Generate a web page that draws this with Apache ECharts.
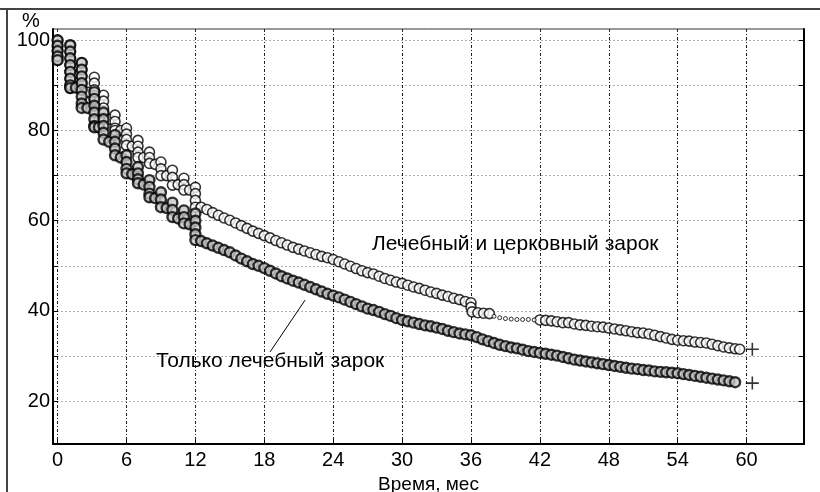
<!DOCTYPE html>
<html>
<head>
<meta charset="utf-8">
<script src="https://cdn.jsdelivr.net/npm/echarts@6/dist/echarts.min.js"></script>
<style>
html,body{margin:0;padding:0;background:#fff;}
#chart{width:820px;height:492px;}
</style>
</head>
<body>
<div id="chart"></div>
<script>
// ---- data ----
const xTicks = [0, 6, 12, 18, 24, 30, 36, 42, 48, 54, 60];
const yTicks = [20, 30, 40, 50, 60, 70, 80, 90, 100];
const yLabels = [20, 40, 60, 80, 100];

// "Лечебный и церковный зарок" (upper curve)
const curveBoth = [
  [0,100],[0,98.8],[0,97.6],[0,96.4],[0,95.6],
  [1.1,98.9],[1.1,97.5],[1.1,96],[1.1,94.5],[1.1,93],[1.1,91.5],[1.1,90],[1.1,89.4],[1.6,89.5],
  [2.1,95],[2.1,93.5],[2.1,92],[2.1,90.5],[2.1,89],[2.6,88.5],
  [3.2,91.8],[3.2,90.5],[3.2,89],[3.2,87.7],[3.2,86.7],[3.6,86.5],
  [4,87.8],[4,86.5],[4,85],[4,83.7],[4,82.7],[4.5,82.5],
  [5,83.4],[5,82],[5,80.5],[5,80],[5.5,80],
  [6,80.5],[6,79.2],[6,78],[6,76.7],[6.5,76.5],
  [7,77.8],[7,76.5],[7,75.2],[7,74],[7.5,74],
  [8,75.2],[8,74],[8,72.7],[8.5,72.5],
  [9,73],[9,71.5],[9,70],[9.5,70],
  [10,71.2],[10,69.6],[10,67.9],[10.5,68],
  [11,69.4],[11,68],[11,66.8],[11.5,66.8],
  [12,67.4],[12,66],[12,64.5],[12,63],
  [12.5,63],[13,62.5],[13.5,61.8],[14,61.2],[14.5,60.6],[15,60.1],[15.5,59.5],[16,58.9],
  [16.5,58.3],[17,57.7],[17.5,57.2],[18,56.7],[18.5,56.2],[19,55.6],[19.5,55.1],[20,54.6],
  [20.5,54.1],[21,53.7],[21.5,53.3],[22,52.9],[22.5,52.5],[23,52.1],[23.5,51.8],[24,51.4],
  [24.5,50.9],[25,50.4],[25.5,49.9],[26,49.4],[26.5,48.9],[27,48.5],[27.5,48.2],[28,47.7],
  [28.5,47.2],[29,46.8],[29.5,46.4],[30,46.1],[30.5,45.7],[31,45.3],[31.5,45],[32,44.6],
  [32.5,44.2],[33,43.9],[33.5,43.5],[34,43.2],[34.5,42.8],[35,42.5],[35.5,42.1],[36,41.8],
  [36,40.8],[36.1,39.8],[36.6,39.6],[37.1,39.5],[37.6,39.4],
  [42,38],[42.5,37.9],[43,37.8],[43.5,37.6],[44,37.4],[44.5,37.4],[45,37.1],[45.5,36.9],
  [46,36.8],[46.5,36.6],[47,36.5],[47.5,36.4],[48,36.2],[48.5,36],[49,35.8],[49.5,35.6],
  [50,35.4],[50.5,35.2],[51,35.1],[51.5,34.9],[52,34.6],[52.5,34.3],[53,34],[53.5,33.7],
  [54,33.5],[54.5,33.4],[55,33.3],[55.5,33.1],[56,33],[56.5,32.9],[57,32.6],[57.5,32.3],
  [58,32],[58.5,31.8],[59,31.6],[59.4,31.5]
];
// sparse small markers of the upper curve
const curveBothSparse = [
  [38,38.8],[38.5,38.5],[39,38.3],[39.5,38.2],[40,38.1],[40.5,38.1],[41,38.1],[41.5,38]
];

// "Только лечебный зарок" (lower curve)
const curveTreat = [
  [0,100],[0,98.8],[0,97.6],[0,96.4],[0,95.6],
  [1.1,98.9],[1.1,97.5],[1.1,96],[1.1,94.5],[1.1,93],[1.1,91.5],[1.1,90],[1.1,89.4],[1.6,89.5],
  [2.1,95],[2.1,93.5],[2.1,92],[2.1,90.5],[2.1,89],[2.1,87.5],[2.1,86],[2.1,85],[2.6,85],
  [3.2,88.5],[3.2,87],[3.2,85.5],[3.2,84],[3.2,82.5],[3.2,81],[3.2,80.7],[3.6,80.7],
  [4,84],[4,82.5],[4,81],[4,79.5],[4,78],[4.5,77.5],
  [5,79],[5,77.5],[5,76],[5,74.5],[5.5,74],
  [6,74.5],[6,73],[6,71.5],[6,70.5],[6.5,70.3],
  [7,71.9],[7,70.5],[7,69.2],[7,68.3],[7.5,68],
  [8,69],[8,67.5],[8,66],[8,65.2],[8.5,65],
  [9,66.3],[9,64.7],[9,63],[9.5,62.8],
  [10,64],[10,62.4],[10,60.8],[10.5,60.5],
  [11,62.3],[11,60.8],[11,59.4],[11.5,59.2],
  [12,61.6],[12,60],[12,58.5],[12,57],[12,55.7],
  [12.5,55.5],[13,55],[13.5,54.5],[14,54],[14.5,53.5],[15,53],[15.5,52.3],[16,51.6],
  [16.5,51],[17,50.4],[17.5,50],[18,49.5],[18.5,48.9],[19,48.3],[19.5,47.7],[20,47.2],
  [20.5,46.7],[21,46.3],[21.5,45.8],[22,45.3],[22.5,44.8],[23,44.3],[23.5,43.8],[24,43.4],
  [24.5,43],[25,42.5],[25.5,42],[26,41.5],[26.5,41],[27,40.5],[27.5,40.2],[28,39.8],
  [28.5,39.3],[29,38.9],[29.5,38.4],[30,38],[30.5,37.7],[31,37.4],[31.5,37.1],[32,36.8],
  [32.5,36.6],[33,36.3],[33.5,36],[34,35.6],[34.5,35.3],[35,35],[35.5,34.8],[36,34.6],
  [36.5,34.2],[37,33.7],[37.5,33.3],[38,32.9],[38.5,32.5],[39,32.2],[39.5,31.9],[40,31.7],
  [40.5,31.4],[41,31.1],[41.5,30.9],[42,30.7],[42.5,30.5],[43,30.3],[43.5,30.1],[44,29.8],
  [44.5,29.5],[45,29.2],[45.5,29],[46,28.8],[46.5,28.6],[47,28.4],[47.5,28.2],[48,28],
  [48.5,27.8],[49,27.6],[49.5,27.4],[50,27.2],[50.5,27.1],[51,26.9],[51.5,26.8],[52,26.6],
  [52.5,26.5],[53,26.4],[53.5,26.3],[54,26.2],[54.5,26],[55,25.8],[55.5,25.6],[56,25.4],
  [56.5,25.2],[57,25],[57.5,24.8],[58,24.6],[58.5,24.4],[59,24.2]
];
// censored end points ("+")
const endMarks = [[60.5,31.5],[60.5,24]];
// pointer line for the lower-curve label
const pointerLine = [[18.5,30.9],[21.55,42.4]];

const FONT = 'Liberation Sans, Arial, sans-serif';
const chart = echarts.init(document.getElementById('chart'), null, {renderer:'canvas'});

const circleStyle = (w, fill) => ({color:fill, borderColor:'#000000', borderWidth:w});

const option = {
  animation: false,
  backgroundColor: '#ffffff',
  grid: {left:53, top:29, right:16, bottom:48, outerBoundsMode:'none', containLabel:false,
         show:true, borderColor:'#333', borderWidth:1, backgroundColor:'transparent'},
  xAxis: {
    type:'value', min:-0.4, max:65,
    name:'Время, мес', nameLocation:'middle', nameGap:28,
    nameTextStyle:{color:'#000', fontSize:19, fontFamily:FONT},
    axisLine:{onZero:false, lineStyle:{color:'#000', width:2}},
    axisTick:{customValues:xTicks, inside:true, length:4, lineStyle:{color:'#000', width:1}},
    axisLabel:{customValues:xTicks, color:'#000', fontSize:20, fontFamily:FONT, margin:6},
    splitLine:{show:true, lineStyle:{color:'#222', width:1, type:[3,2,1,2]}}
  },
  yAxis: [{
    type:'value', min:10.5, max:102.5, position:'left',
    axisLine:{show:true, onZero:false, lineStyle:{color:'#000', width:2}},
    axisTick:{customValues:yTicks, inside:true, length:5, lineStyle:{color:'#000', width:1}},
    axisLabel:{customValues:yLabels, color:'#000', fontSize:20, fontFamily:FONT, margin:3},
    splitLine:{show:true, lineStyle:{color:'#b0b0b0', width:1, type:[2,2]}}
  },{
    type:'value', min:10.5, max:102.5, position:'right',
    axisLine:{show:true, onZero:false, lineStyle:{color:'#000', width:2}},
    axisTick:{customValues:yTicks, inside:true, length:5, lineStyle:{color:'#000', width:1}},
    axisLabel:{show:false},
    splitLine:{show:false}
  }],
  series: [
    {
      name:'Лечебный и церковный зарок', type:'scatter', data:curveBoth,
      symbol:'circle', symbolSize:10, itemStyle:circleStyle(1.6, '#ffffff'), z:3
    },
    {
      name:'Лечебный и церковный зарок (редкие)', type:'scatter', data:curveBothSparse,
      symbol:'circle', symbolSize:4, itemStyle:circleStyle(1, '#ffffff'), z:3
    },
    {
      name:'Только лечебный зарок', type:'scatter', data:curveTreat,
      symbol:'circle', symbolSize:10, itemStyle:circleStyle(2.4, '#c8c8c8'), z:4,
      markLine:{
        silent:true, symbol:['none','none'], label:{show:false},
        lineStyle:{color:'#000', width:1, type:'solid'},
        data:[[{coord:pointerLine[0]},{coord:pointerLine[1]}]]
      }
    },
    {
      name:'Цензурированные', type:'scatter', data:endMarks,
      symbol:'path://M0,4.4H10V5.6H0ZM4.4,0H5.6V10H4.4Z', symbolSize:13,
      itemStyle:{color:'#000'}, z:5
    }
  ],
  graphic: [
    {type:'line', shape:{x1:0, y1:9, x2:820, y2:9}, style:{stroke:'#444', lineWidth:2}},
    {type:'line', shape:{x1:7, y1:9, x2:7, y2:492}, style:{stroke:'#444', lineWidth:2}},
    {type:'text', left:22, top:11, style:{text:'%', fill:'#000', font:'20px '+FONT}},
    {type:'text', left:372, top:234, z:10, style:{text:'Лечебный и церковный зарок', fill:'#000', font:'21px '+FONT}},
    {type:'text', left:156, top:351, z:10, style:{text:'Только лечебный зарок', fill:'#000', font:'21px '+FONT}}
  ]
};
chart.setOption(option);
</script>
</body>
</html>
